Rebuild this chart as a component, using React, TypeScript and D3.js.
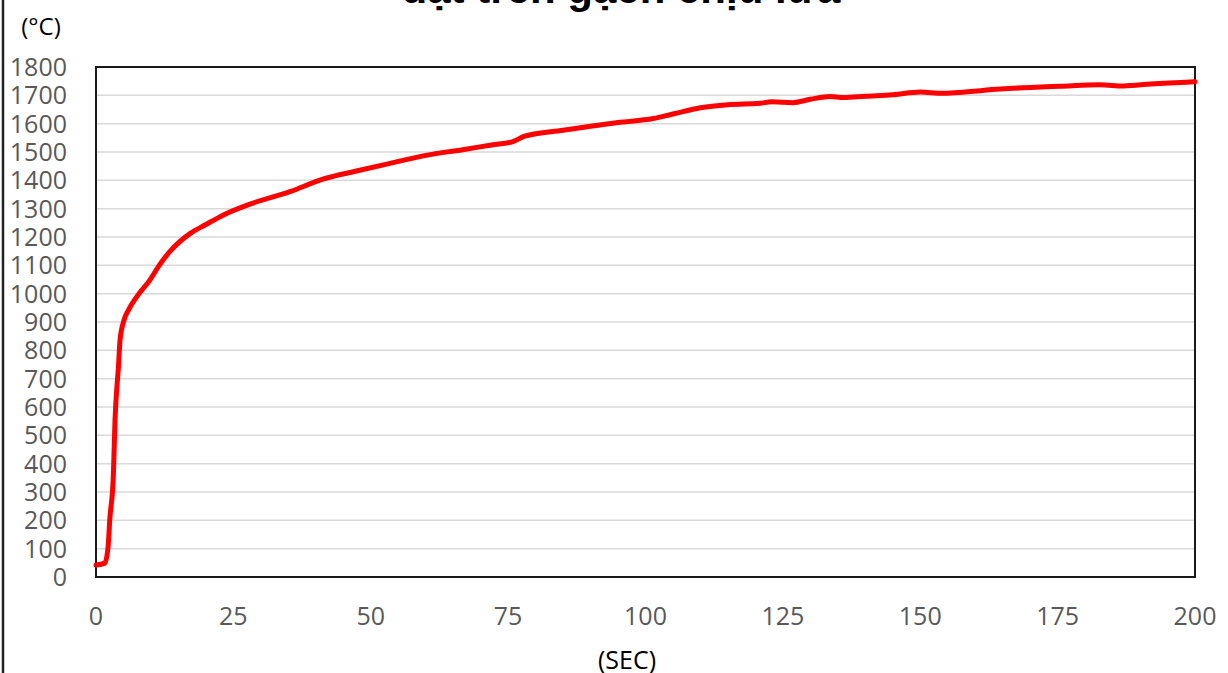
import React from "react";
import * as d3 from "d3";

const titleText = "đặt trên gạch chịu lửa";
const yUnit = "(°C)";
const xUnit = "(SEC)";

const timeSec = [0, 1.6, 2.2, 2.5, 3.15, 3.46, 3.9, 4.07, 4.37, 5.1, 5.9, 7.4, 9.8, 11.5, 13.5, 17.1, 20, 23.2, 28, 35.3, 41.4, 47.4, 53.5, 60, 67, 72, 75.9, 78, 85, 90, 95, 101.4, 105, 110, 115, 120.8, 123, 126.8, 130, 133.6, 136, 140, 145, 150, 154, 157, 164.5, 170, 175.4, 182.7, 187, 192, 200];
const tempC = [42, 49, 107, 201, 354, 554, 695, 737, 836, 907, 942, 989, 1048, 1100, 1150, 1212, 1244, 1278, 1316, 1360, 1405, 1433, 1460, 1488, 1509, 1525, 1537, 1556, 1577, 1591, 1604, 1618, 1634, 1656, 1667, 1672, 1677, 1674, 1686, 1696, 1692, 1697, 1702, 1712, 1707, 1710, 1722, 1728, 1732, 1737, 1733, 1740, 1748];

const yTicks = [0, 100, 200, 300, 400, 500, 600, 700, 800, 900, 1000, 1100, 1200, 1300, 1400, 1500, 1600, 1700, 1800];
const xTicks = [0, 25, 50, 75, 100, 125, 150, 175, 200];

const W = 1228;
const H = 673;
const L = 96, R = 1195, T = 67, B = 577;

export default function App() {
  const x = d3.scaleLinear().domain([0, 200]).range([L, R]);
  const y = d3.scaleLinear().domain([0, 1800]).range([B, T]);
  const data = timeSec.map((t, i) => [t, tempC[i]] as [number, number]);
  const line = d3
    .line<[number, number]>()
    .x((d) => x(d[0]))
    .y((d) => y(d[1]))
    .curve(d3.curveMonotoneX);
  const font = "'Open Sans', sans-serif";
  return (
    <svg
      width={W}
      height={H}
      style={{ position: "absolute", left: 0, top: 0, background: "#fff" }}
    >
      <rect x={0} y={0} width={W} height={H} fill="#fff" />
      <line x1={3} y1={0} x2={3} y2={H} stroke="#222" strokeWidth={2.5} />
      <text
        x={621}
        y={3}
        textAnchor="middle"
        fontFamily="'Liberation Sans', Arial, sans-serif"
        fontWeight="bold"
        fontSize={42}
        fill="#000"
      >
        {titleText}
      </text>
      <text x={41} y={35} textAnchor="middle" fontFamily={font} fontSize={24} fill="#000">
        {yUnit}
      </text>
      {yTicks.map((v) => (
        <line key={"g" + v} x1={L} x2={R} y1={y(v)} y2={y(v)} stroke="#d9d9d9" strokeWidth={1.5} />
      ))}
      <rect x={L} y={T} width={R - L} height={B - T} fill="none" stroke="#1a1a1a" strokeWidth={2} />
      {yTicks.map((v) => (
        <text
          key={"yl" + v}
          x={67}
          y={y(v)}
          dy="0.36em"
          textAnchor="end"
          fontFamily={font}
          fontSize={25}
          fill="#595959"
        >
          {v}
        </text>
      ))}
      {xTicks.map((v) => (
        <text
          key={"xl" + v}
          x={x(v)}
          y={616}
          dy="0.36em"
          textAnchor="middle"
          fontFamily={font}
          fontSize={25}
          fill="#595959"
        >
          {v}
        </text>
      ))}
      <text x={627} y={669} textAnchor="middle" fontFamily={font} fontSize={25} fill="#000">
        {xUnit}
      </text>
      <path
        d={line(data) || ""}
        fill="none"
        stroke="#ff0000"
        strokeWidth={5}
        strokeLinejoin="round"
        strokeLinecap="round"
      />
    </svg>
  );
}
